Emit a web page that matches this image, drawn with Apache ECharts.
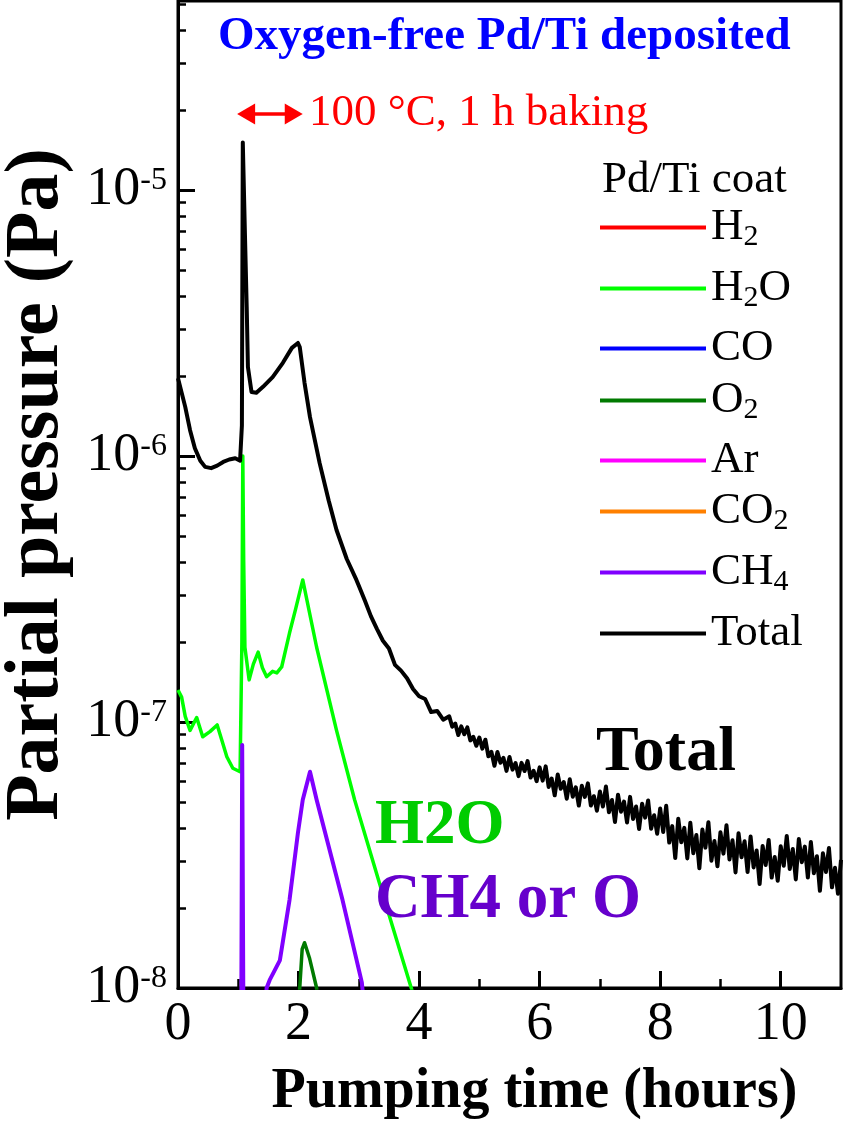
<!DOCTYPE html>
<html><head><meta charset="utf-8">
<script src="https://cdn.jsdelivr.net/npm/echarts@6/dist/echarts.min.js"></script>
<style>html,body{margin:0;padding:0;background:#fff}#c{width:846px;height:1132px}</style>
</head><body><div id="c"></div>
<script>
// ---------- data ----------
const seriesNames = ['H2', 'H2O', 'CO', 'O2', 'Ar', 'CO2', 'CH4', 'Total'];
const h2Data = [];
const coData = [];
const arData = [];
const co2Data = [];
const h2oData = [[0,1.32e-7],[0.06,1.24e-7],[0.12,1.05e-7],[0.2,9.3e-8],[0.31,1.04e-7],[0.41,8.8e-8],[0.53,9.2e-8],[0.65,9.75e-8],[0.73,8.5e-8],[0.81,7.4e-8],[0.91,6.7e-8],[1.03,6.5e-8],[1.06,2.0e-7],[1.075,1.0e-6],[1.09,4.0e-7],[1.11,1.91e-7],[1.18,1.44e-7],[1.25,1.65e-7],[1.33,1.83e-7],[1.40,1.6e-7],[1.47,1.48e-7],[1.57,1.55e-7],[1.64,1.53e-7],[1.72,1.61e-7],[1.85,2.16e-7],[1.95,2.65e-7],[2.07,3.42e-7],[2.30,1.91e-7],[2.63,9.3e-8],[2.93,5.1e-8],[3.39,2.28e-8],[3.87,1.0e-8],[4.0,8e-9]];
const o2Data = [[1.99,8e-9],[2.02,1.0e-8],[2.06,1.4e-8],[2.10,1.48e-8],[2.18,1.3e-8],[2.30,1.0e-8],[2.33,8e-9]];
const ch4Data = [[1.05,8e-9],[1.065,8.2e-8],[1.085,8e-9],[1.45,8e-9],[1.47,1.0e-8],[1.52,1.07e-8],[1.69,1.27e-8],[1.85,2.14e-8],[1.99,3.83e-8],[2.07,5.1e-8],[2.19,6.5e-8],[2.30,5.1e-8],[2.73,2.14e-8],[3.05,1.05e-8],[3.1,8e-9]];
const totalData = [[0,1.96e-6],[0.12,1.53e-6],[0.2,1.25e-6],[0.28,1.07e-6],[0.37,9.6e-7],[0.45,9.1e-7],[0.55,9.0e-7],[0.65,9.2e-7],[0.75,9.5e-7],[0.85,9.7e-7],[0.95,9.8e-7],[1.03,9.6e-7],[1.06,1.3e-6],[1.075,1.51e-5],[1.11,6.9e-6],[1.14,3.63e-6],[1.16,2.16e-6],[1.22,1.74e-6],[1.30,1.73e-6],[1.41,1.82e-6],[1.57,1.98e-6],[1.74,2.24e-6],[1.89,2.55e-6],[1.99,2.66e-6],[2.02,2.57e-6],[2.10,1.88e-6],[2.19,1.40e-6],[2.35,9.4e-7],[2.5,6.8e-7],[2.63,5.27e-7],[2.8,4.1e-7],[2.96,3.42e-7],
[3.0,3.25e-7],[3.1,2.86e-7],[3.2,2.50e-7],[3.3,2.24e-7],[3.4,2.02e-7],[3.5,1.89e-7],[3.6,1.64e-7],[3.7,1.56e-7],[3.8,1.46e-7],[3.9,1.33e-7],[4.0,1.25e-7],[4.1,1.22e-7],[4.2,1.09e-7],[4.3,1.10e-7],[4.4,1.02e-7],
[4.50,10.5e-8],[4.55,9.6e-8],[4.60,9.87e-8],[4.65,8.93e-8],[4.70,9.63e-8],[4.75,8.99e-8],[4.80,9.54e-8],[4.85,8.53e-8],[4.90,8.8e-8],[4.95,8.14e-8],
[5.00,8.74e-8],[5.05,7.94e-8],[5.10,8.58e-8],[5.15,7.43e-8],[5.20,7.72e-8],[5.25,6.85e-8],[5.30,7.71e-8],[5.35,7.03e-8],[5.40,7.33e-8],[5.45,6.55e-8],
[5.50,7.39e-8],[5.55,6.62e-8],[5.60,7.01e-8],[5.65,6.26e-8],[5.70,7.02e-8],[5.75,6.54e-8],[5.80,7.13e-8],[5.85,6.18e-8],[5.90,6.55e-8],[5.95,5.99e-8],
[6.00,6.75e-8],[6.05,6.02e-8],[6.10,6.81e-8],[6.15,5.7e-8],[6.20,6.13e-8],[6.25,5.3e-8],[6.30,6.35e-8],[6.35,5.61e-8],[6.40,5.95e-8],[6.45,5.15e-8],
[6.50,6.09e-8],[6.55,5.24e-8],[6.60,5.68e-8],[6.65,4.85e-8],[6.70,5.76e-8],[6.75,5.23e-8],[6.80,5.88e-8],[6.85,4.85e-8],[6.90,5.26e-8],[6.95,4.64e-8],
[7.00,5.48e-8],[7.05,4.81e-8],[7.10,5.72e-8],[7.15,4.58e-8],[7.20,5.09e-8],[7.25,4.21e-8],[7.30,5.33e-8],[7.35,4.6e-8],[7.40,5.02e-8],[7.45,4.19e-8],
[7.50,5.23e-8],[7.55,4.32e-8],[7.60,4.81e-8],[7.65,3.96e-8],[7.70,4.93e-8],[7.75,4.37e-8],[7.80,5.07e-8],[7.85,3.97e-8],[7.90,4.46e-8],[7.95,3.8e-8],
[8.00,4.73e-8],[8.05,3.86e-8],[8.10,4.84e-8],[8.15,3.52e-8],[8.20,4.06e-8],[8.25,3.08e-8],[8.30,4.33e-8],[8.35,3.53e-8],[8.40,4.0e-8],[8.45,3.07e-8],
[8.50,4.18e-8],[8.55,3.21e-8],[8.60,3.76e-8],[8.65,2.82e-8],[8.70,3.94e-8],[8.75,3.37e-8],[8.80,4.2e-8],[8.85,3.01e-8],[8.90,3.57e-8],[8.95,2.87e-8],
[9.00,3.85e-8],[9.05,3.2e-8],[9.10,4.09e-8],[9.15,3.04e-8],[9.20,3.59e-8],[9.25,2.72e-8],[9.30,3.82e-8],[9.35,3.1e-8],[9.40,3.56e-8],[9.45,2.73e-8],
[9.50,3.71e-8],[9.55,2.84e-8],[9.60,3.29e-8],[9.65,2.46e-8],[9.70,3.42e-8],[9.75,2.9e-8],[9.80,3.6e-8],[9.85,2.6e-8],[9.90,3.11e-8],[9.95,2.53e-8],
[10.00,3.41e-8],[10.05,2.88e-8],[10.10,3.73e-8],[10.15,2.8e-8],[10.20,3.33e-8],[10.25,2.56e-8],[10.30,3.63e-8],[10.35,2.97e-8],[10.40,3.4e-8],[10.45,2.6e-8],
[10.50,3.54e-8],[10.55,2.7e-8],[10.60,3.13e-8],[10.65,2.32e-8],[10.70,3.21e-8],[10.75,2.73e-8],[10.80,3.36e-8],[10.85,2.39e-8],[10.90,2.83e-8],[10.95,2.26e-8],[11.00,3.03e-8]];
const bakingArrow = [[1.13, 1.93e-5], [1.92, 1.93e-5]];
const xMajorTicks = [0, 2, 4, 6, 8, 10];
const xMinorTicks = [1, 3, 5, 7, 9];
const yMajorTicks = [1e-8, 1e-7, 1e-6, 1e-5];
const yMinorTicks = [2e-8,3e-8,4e-8,5e-8,6e-8,7e-8,8e-8,9e-8,2e-7,3e-7,4e-7,5e-7,6e-7,7e-7,8e-7,9e-7,2e-6,3e-6,4e-6,5e-6,6e-6,7e-6,8e-6,9e-6,2e-5,3e-5,4e-5,5e-5];
const legendLabels = {H2:'{b|H}{s|2}', H2O:'{b|H}{s|2}{b|O}', CO:'{b|CO}', O2:'{b|O}{s|2}', Ar:'{b|Ar}', CO2:'{b|CO}{s|2}', CH4:'{b|CH}{s|4}', Total:'{b|Total}'};

// ---------- styles / layout ----------
const FONT = "'Liberation Serif', 'Times New Roman', serif";
const seriesColors = ['#ff0000', '#00ff00', '#0000ff', '#007a00', '#ff00ff', '#ff8000', '#8000ff', '#000000'];
const seriesWidths = [3.5, 3.5, 3.5, 3.5, 3.5, 3.5, 4, 4];
const seriesData = [h2Data, h2oData, coData, o2Data, arData, co2Data, ch4Data, totalData];
const legendRowY = [230, 291, 351, 403, 463, 514, 575, 636];
const yMax = Math.pow(10, -4.2895);

const chart = echarts.init(document.getElementById('c'), null, {renderer: 'canvas'});

const series = seriesNames.map((n, i) => ({
  name: n, type: 'line', data: seriesData[i], symbol: 'none', showSymbol: false,
  color: seriesColors[i], clip: true, z: i === 7 ? 3 : 2,
  lineStyle: {width: seriesWidths[i], color: seriesColors[i], join: 'round'},
  emphasis: {disabled: true}, silent: true
}));
series[7].markLine = {
  silent: true, animation: false,
  symbol: ['triangle', 'triangle'], symbolSize: [21, 18],
  lineStyle: {color: '#ff0000', width: 3.5, type: 'solid'},
  itemStyle: {color: '#ff0000'},
  label: {show: false},
  emphasis: {disabled: true},
  data: [[{coord: bakingArrow[0]}, {coord: bakingArrow[1]}]]
};

const legends = seriesNames.map((n, i) => ({
  data: [n], left: 600, top: legendRowY[i] - 25, orient: 'vertical', padding: 0,
  itemWidth: 106, itemHeight: 4, icon: 'rect', selectedMode: false,
  formatter: (name) => legendLabels[name],
  textStyle: {color: '#000', fontFamily: FONT, fontSize: 45,
    rich: {
      b: {fontFamily: FONT, fontSize: 45, lineHeight: 50},
      s: {fontFamily: FONT, fontSize: 30, lineHeight: 10, verticalAlign: 'bottom'}
    }}
}));

function txt(x, y, text, size, weight, color) {
  return {type: 'text', x: x, y: y, z: 100, silent: true,
    style: {text: text, fontFamily: FONT, fontSize: size, fontWeight: weight, fill: color, verticalAlign: 'middle', align: 'left'}};
}

const option = {
  animation: false,
  backgroundColor: '#ffffff',
  grid: {left: 178, right: 5, top: 1, bottom: 144, show: true, borderColor: '#000', borderWidth: 3, outerBoundsMode: 'none', containLabel: false},
  legend: legends,
  xAxis: [
    {type: 'value', min: 0, max: 11, interval: 2,
     name: 'Pumping time (hours)', nameLocation: 'middle', nameGap: 77, nameMoveOverlap: false,
     nameTextStyle: {fontFamily: FONT, fontSize: 56, fontWeight: 'bold', color: '#000', lineHeight: 56, padding: [0, 0, 0, 50]},
     axisLine: {show: true, lineStyle: {color: '#000', width: 3}},
     axisTick: {show: true, inside: true, length: 17, lineStyle: {color: '#000', width: 3}, customValues: xMajorTicks},
     axisLabel: {show: true, margin: 10, fontFamily: FONT, fontSize: 54, lineHeight: 54, color: '#000', customValues: xMajorTicks},
     splitLine: {show: false}},
    {type: 'value', min: 0, max: 11, position: 'bottom',
     axisLine: {show: false}, axisLabel: {show: false}, splitLine: {show: false},
     axisTick: {show: true, inside: true, length: 9, lineStyle: {color: '#000', width: 2.5}, customValues: xMinorTicks}}
  ],
  yAxis: [
    {type: 'log', logBase: 10, min: 1e-8, max: yMax,
     name: 'Partial pressure (Pa)', nameLocation: 'middle', nameGap: 103, nameRotate: 90, nameMoveOverlap: false,
     nameTextStyle: {fontFamily: FONT, fontSize: 76, fontWeight: 'bold', color: '#000', lineHeight: 76, padding: [0, 0, 0, 20]},
     axisLine: {show: true, lineStyle: {color: '#000', width: 3}},
     axisTick: {show: true, inside: true, length: 17, lineStyle: {color: '#000', width: 3}, customValues: yMajorTicks},
     axisLabel: {show: true, margin: 11, customValues: yMajorTicks,
       formatter: (v) => '{b|10}{s|' + Math.round(Math.log10(v)) + '}',
       rich: {
         b: {fontFamily: FONT, fontSize: 54, lineHeight: 50, color: '#000'},
         s: {fontFamily: FONT, fontSize: 32, lineHeight: 18, verticalAlign: 'top', color: '#000'}
       }},
     splitLine: {show: false}, minorTick: {show: false}},
    {type: 'log', logBase: 10, min: 1e-8, max: yMax, position: 'left',
     axisLine: {show: false}, axisLabel: {show: false}, splitLine: {show: false},
     axisTick: {show: true, inside: true, length: 8, lineStyle: {color: '#000', width: 2.5}, customValues: yMinorTicks}}
  ],
  series: series,
  graphic: [
    txt(218, 37, 'Oxygen-free Pd/Ti deposited', 47, 'bold', '#0000ff'),
    txt(309, 113, '100 °C, 1 h baking', 45, 'normal', '#ff0000'),
    txt(602, 180, 'Pd/Ti coat', 45, 'normal', '#000000'),
    txt(596, 753, 'Total', 64, 'bold', '#000000'),
    txt(375, 827, 'H2O', 63, 'bold', '#00cc00'),
    txt(375, 901, 'CH4 or O', 63, 'bold', '#6600cc')
  ]
};
chart.setOption(option);
</script>
</body></html>
